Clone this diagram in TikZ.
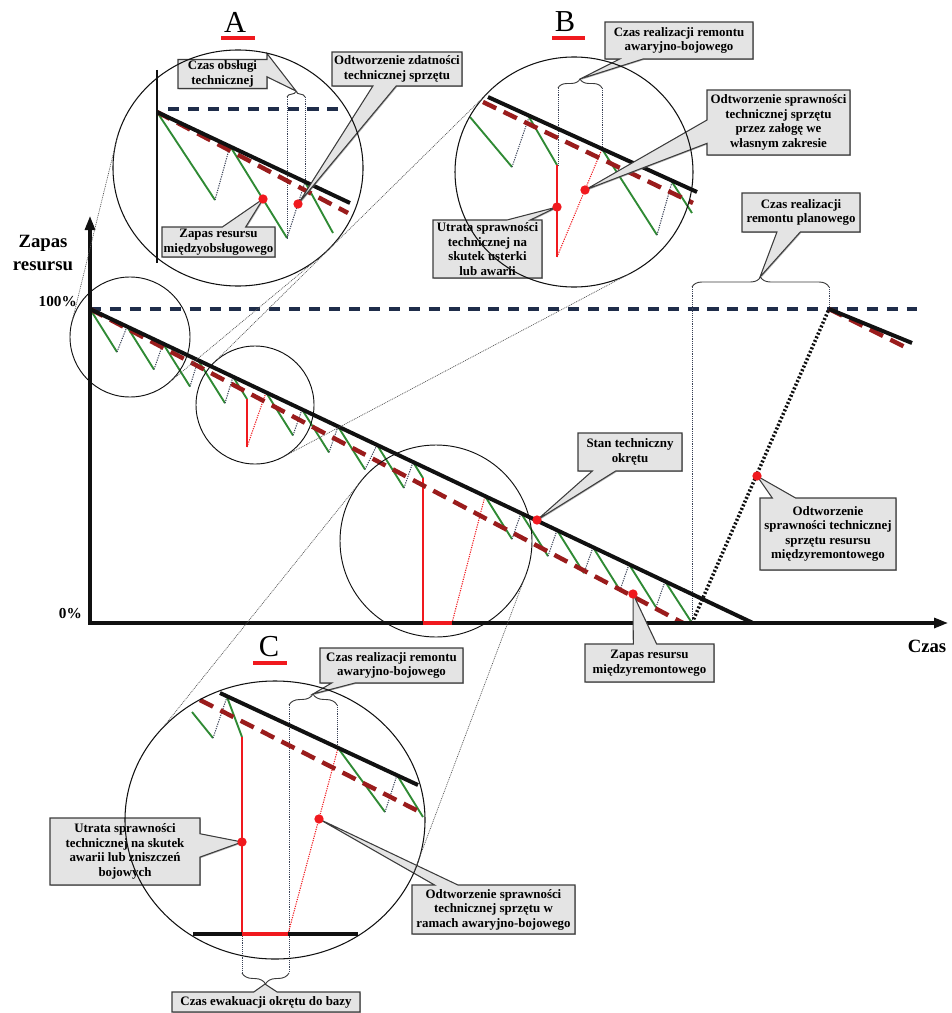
\documentclass[tikz,border=0pt]{standalone}
\usepackage{fontspec}
\setmainfont{Liberation Serif}
\usetikzlibrary{arrows.meta,calc,shapes.geometric,shapes.callouts,shadows,decorations.pathreplacing}
\definecolor{Ink}{HTML}{111111}
\definecolor{Navy}{HTML}{1F2D4A}
\definecolor{Maroon}{HTML}{9A1C1C}
\definecolor{Leaf}{HTML}{2F8A34}
\definecolor{Alarm}{HTML}{F0191E}
\definecolor{Slate}{HTML}{3A4257}
\definecolor{NoteFill}{HTML}{E4E4E4}
\definecolor{NoteEdge}{HTML}{3C3C3C}
\definecolor{RayGray}{HTML}{555555}
\tikzset{
  axisline/.style={-{Triangle[length=4.2mm,width=3mm]}, line width=2.6pt, draw=Ink, line cap=rect},
  wear/.style={line width=3.4pt, draw=Ink},
  reserve/.style={line width=3.8pt, draw=Maroon, dash pattern=on 12.5pt off 7pt},
  fullres/.style={line width=2.8pt, draw=Navy, dash pattern=on 9.5pt off 7.5pt},
  drop/.style={line width=1.6pt, draw=Leaf},
  refill/.style={line width=0.9pt, draw=Slate, dash pattern=on 1pt off 1pt},
  fail/.style={line width=2pt, draw=Alarm},
  failbase/.style={line width=4pt, draw=Alarm},
  failrefill/.style={line width=0.9pt, draw=Alarm, dash pattern=on 1pt off 1pt},
  overhaul/.style={line width=3pt, draw=Ink, dash pattern=on 1.7pt off 1.7pt},
  spot/.style={circle, draw=Ink, line width=0.8pt, inner sep=0pt, outer sep=0pt},
  lens/.style={ellipse, draw=Ink, line width=0.9pt, inner sep=0pt, outer sep=0pt},
  ray/.style={draw=RayGray, line width=0.6pt, dash pattern=on 0.8pt off 0.8pt},
  guide/.style={draw=Slate, line width=0.6pt, dash pattern=on 0.8pt off 0.8pt},
  span/.style={decorate, decoration={brace, amplitude=#1}, draw=NoteEdge, line width=0.8pt},
  marker/.style={circle, fill=Alarm, inner sep=0pt, minimum size=0.28cm},
  note/.style={rectangle callout, draw=NoteEdge, fill=NoteFill, line width=0.9pt,
    callout pointer width=0.7cm, align=center, inner sep=1pt,
    font=\bfseries\fontsize{11}{12.4}\selectfont,
    drop shadow={shadow xshift=0.8pt, shadow yshift=-0.8pt, fill=black!60}},
  tag/.style={font=\fontsize{26}{26}\selectfont, inner sep=0pt},
  underbar/.style={line width=2.6pt, draw=Alarm},
  axislabel/.style={font=\bfseries\fontsize{16}{19.5}\selectfont, align=center},
  percent/.style={font=\bfseries\fontsize{13}{13}\selectfont, anchor=east, inner sep=0pt}
}
\begin{document}
\begin{tikzpicture}[x=0.03cm,y=-0.03cm]
  \useasboundingbox (0,0) rectangle (951,1013);
  \coordinate (origin) at (90,623);
  \coordinate (yEnd) at (90,216);
  \coordinate (xEnd) at (948,623);
  \coordinate (full) at (90,309);
  \coordinate (wearEnd) at (753,623);
  \coordinate (resEnd) at (683,623);
  \coordinate (worn) at (692,623);
  \coordinate (rebuilt) at (829,309);

  \draw[fullres] (full) -- (917,309);
  \draw[guide] (692,287) -- (worn);
  \draw[guide] (829,287) -- (rebuilt);
  \draw[span=0.3cm] (692,287) -- (829,287);
  \foreach \s/\n in {90/127,127/163,163/198,198/233,266/302,302/338,338/377,377/413,485/521,521/557,557/593,593/629,629/665}{
    \pgfmathsetmacro\ys{309+0.4736*(\s-90)}
    \pgfmathsetmacro\yn{309+0.4736*(\n-90)}
    \draw[drop] (\s,\ys) -- (\s+27,\ys+43);
    \draw[refill] (\s+27,\ys+43) -- (\n,\yn);
  }
  \draw[drop] (665,581.3) -- (worn);
  \draw[drop] (233,376.7) -- (247,399);
  \draw[fail] (247,399) -- (247,447);
  \draw[failrefill] (247,447) -- (266,392.4);
  \draw[drop] (413,462) -- (423,478);
  \draw[fail] (423,478) -- (423,623);
  \draw[failrefill] (452,623) -- (485,496.1);
  \draw[reserve] (full) -- (resEnd);
  \draw[wear] (full) -- (wearEnd);
  \draw[overhaul] (worn) -- (rebuilt);
  \draw[reserve] (rebuilt) -- (905,347);
  \draw[wear] (rebuilt) -- (912,343);
  \draw[axisline] (origin) -- (yEnd);
  \draw[axisline] (origin) -- (xEnd);
  \draw[failbase] (423,623) -- (452,623);
  \node[axislabel] (ylab) at (43,253) {Zapas\\resursu};
  \node[axislabel] (xlab) at (927,646) {Czas};
  \node[percent] (p100) at (77,302) {100\%};
  \node[percent] (p0) at (82,614) {0\%};

  \node[tag] (tagA) at (235,22) {A};
  \draw[underbar] (221,38) -- (255,38);
  \draw[fullres] (168,109) -- (343,109);
  \draw[guide] (287,97) -- (287,238);
  \draw[guide] (305,97) -- (305,182);
  \draw[span=0.17cm] (287,97) -- (305,97);
  \draw[drop] (157,112) -- (215,200);
  \draw[refill] (215,200) -- (230,146);
  \draw[drop] (230,146) -- (287,238);
  \draw[refill] (287,238) -- (305,182);
  \draw[drop] (305,182) -- (333,233);
  \draw[reserve] (157,112) -- (348,213);
  \draw[wear] (157,112) -- (350,203);
  \draw[line width=2.2pt, draw=Ink] (157,70) -- (157,263);

  \node[tag] (tagB) at (565,22) {B};
  \draw[underbar] (552,38) -- (585,38);
  \draw[guide] (558,88) -- (558,165);
  \draw[guide] (602,88) -- (602,149);
  \draw[span=0.27cm] (558,88) -- (602,88);
  \draw[drop] (470,117) -- (512,167);
  \draw[refill] (512,167) -- (529,117);
  \draw[drop] (529,117) -- (557,165);
  \draw[fail] (557,165) -- (557,257);
  \draw[failrefill] (557,257) -- (602,149);
  \draw[drop] (602,149) -- (657,235);
  \draw[refill] (657,235) -- (672,182);
  \draw[drop] (672,182) -- (692,213);
  \draw[reserve] (483,102) -- (693,203);
  \draw[wear] (488,97) -- (697,192);

  \node[tag] (tagC) at (269,647) {C};
  \draw[underbar] (253,663) -- (287,663);
  \draw[guide] (289,705) -- (289,973);
  \draw[guide] (337,705) -- (337,748);
  \draw[guide] (242,934) -- (242,973);
  \draw[span=0.33cm] (289,705) -- (337,705);
  \draw[span=0.33cm] (289,973) -- (242,973);
  \draw[drop] (192,712) -- (213,738);
  \draw[refill] (213,738) -- (227,697);
  \draw[drop] (227,697) -- (242,737);
  \draw[fail] (242,737) -- (242,934);
  \draw[failrefill] (288,934) -- (338,748);
  \draw[drop] (338,748) -- (385,812);
  \draw[refill] (385,812) -- (397,775);
  \draw[drop] (397,775) -- (423,817);
  \draw[reserve] (200,700) -- (420,812);
  \draw[wear] (220,693) -- (418,785);
  \draw[line width=2.6pt, draw=Ink] (193,934) -- (358,934);
  \draw[failbase] (242,934) -- (288,934);

  \coordinate (pStan) at (537,520);
  \coordinate (pZapasRem) at (633,594);
  \coordinate (pOdtwRem) at (757,476);
  \coordinate (tipPlan) at (760,277);
  \coordinate (tipObsl) at (296,91);
  \coordinate (pZapasObsl) at (263,199);
  \coordinate (pZdatn) at (298,204);
  \coordinate (tipAwB) at (580,79);
  \coordinate (pUsterka) at (557,207);
  \coordinate (pZaloga) at (585,190);
  \coordinate (tipAwC) at (313,694);
  \coordinate (tipEwak) at (265,984);
  \coordinate (pZniszcz) at (242,842);
  \coordinate (pRamach) at (319,819);

  \node[note, minimum width=3.12cm, minimum height=1.14cm, callout absolute pointer={(pStan)}] (noteStan) at (630,452) {Stan techniczny\\okrętu};
  \node[note, minimum width=3.87cm, minimum height=1.14cm, callout absolute pointer={(pZapasRem)}] (noteZapasRem) at (649.5,663) {Zapas resursu\\międzyremontowego};
  \node[note, minimum width=3.54cm, minimum height=1.17cm, callout absolute pointer={(tipPlan)}] (notePlan) at (801,212.5) {Czas realizacji\\remontu planowego};
  \node[note, minimum width=4.08cm, minimum height=2.16cm, callout absolute pointer={(pOdtwRem)}] (noteOdtwRem) at (828,534) {Odtworzenie\\sprawności technicznej\\sprzętu resursu\\międzyremontowego};
  \node[note, minimum width=2.67cm, minimum height=0.87cm, callout absolute pointer={(tipObsl)}] (noteObsl) at (222.5,74) {Czas obsługi\\technicznej};
  \node[note, minimum width=3.9cm, minimum height=1.02cm, callout absolute pointer={(pZdatn)}] (noteZdatn) at (397,69) {Odtworzenie zdatności\\technicznej sprzętu};
  \node[note, minimum width=3.39cm, minimum height=0.9cm, callout absolute pointer={(pZapasObsl)}] (noteZapasObsl) at (218.5,242) {Zapas resursu\\międzyobsługowego};
  \node[note, minimum width=4.44cm, minimum height=1.11cm, callout absolute pointer={(tipAwB)}] (noteAwB) at (679,40.5) {Czas realizacji remontu\\awaryjno-bojowego};
  \node[note, minimum width=4.29cm, minimum height=1.95cm, callout absolute pointer={(pZaloga)}] (noteZaloga) at (778.5,122.5) {Odtworzenie sprawności\\technicznej sprzętu\\przez załogę we\\własnym zakresie};
  \node[note, minimum width=3.27cm, minimum height=1.74cm, callout absolute pointer={(pUsterka)}] (noteUsterka) at (487.5,249) {Utrata sprawności\\technicznej na\\skutek usterki\\lub awarii};
  \node[note, minimum width=4.29cm, minimum height=1.05cm, callout absolute pointer={(tipAwC)}] (noteAwC) at (391.5,665.5) {Czas realizacji remontu\\awaryjno-bojowego};
  \node[note, minimum width=4.5cm, minimum height=2.01cm, callout absolute pointer={(pZniszcz)}] (noteZniszcz) at (125,851.5) {Utrata sprawności\\technicznej na skutek\\awarii lub zniszczeń\\bojowych};
  \node[note, minimum width=4.89cm, minimum height=1.47cm, callout absolute pointer={(pRamach)}] (noteRamach) at (493.5,909.5) {Odtworzenie sprawności\\technicznej sprzętu w\\ramach awaryjno-bojowego};
  \node[note, minimum width=5.64cm, minimum height=0.6cm, callout absolute pointer={(tipEwak)}] (noteEwak) at (266,1002) {Czas ewakuacji okrętu do bazy};

  \node[spot, minimum size=3.6cm] (spotA) at (130,337) {};
  \node[spot, minimum size=3.54cm] (spotB) at (255,405) {};
  \node[spot, minimum size=5.76cm] (spotC) at (436,541) {};
  \node[lens, minimum width=7.5cm, minimum height=7.08cm] (lensA) at (238,168) {};
  \node[lens, minimum width=7.14cm, minimum height=6.9cm] (lensB) at (574,172) {};
  \node[lens, minimum width=9cm, minimum height=8.34cm] (lensC) at (275,820) {};
  \draw[ray] (spotA.165) -- (lensA.165);
  \draw[ray] (spotA.-50) -- (lensA.-50);
  \draw[ray] (spotB.134) -- (lensB.134);
  \draw[ray] (spotB.-62) -- (lensB.-62);
  \draw[ray] (spotC.141) -- (lensC.141);
  \draw[ray] (spotC.-21) -- (lensC.-21);

  \node[marker] (dotStan) at (pStan) {};
  \node[marker] (dotZapasRem) at (pZapasRem) {};
  \node[marker] (dotOdtwRem) at (pOdtwRem) {};
  \node[marker] (dotZapasObsl) at (pZapasObsl) {};
  \node[marker] (dotZdatn) at (pZdatn) {};
  \node[marker] (dotUsterka) at (pUsterka) {};
  \node[marker] (dotZaloga) at (pZaloga) {};
  \node[marker] (dotZniszcz) at (pZniszcz) {};
  \node[marker] (dotRamach) at (pRamach) {};
\end{tikzpicture}
\end{document}
